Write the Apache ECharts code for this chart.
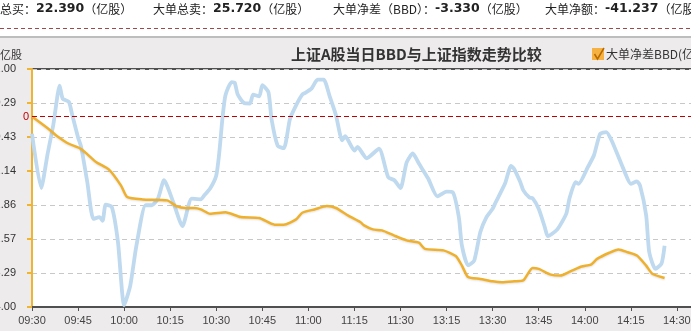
<!DOCTYPE html>
<html><head><meta charset="utf-8">
<script src="https://cdn.jsdelivr.net/npm/echarts@6/dist/echarts.min.js"></script>
<style>html,body{margin:0;padding:0;background:#fff}#c{width:691px;height:331px}</style>
</head><body><div id="c"></div>
<script>
// ---- data ----
var bbdTimes = ['09:30','09:36','09:38','09:42','09:46','09:51','09:55','09:59','10:01','10:06','10:14','10:17','10:20','10:23','10:25','10:28','10:33','10:38','10:44','10:49','10:52','10:56','10:58','11:02','11:06','11:09','11:13','11:17','11:18','11:21','11:24','11:28','13:02','13:06','13:08','13:14','13:18','13:20','13:22','13:26','13:30','13:33','13:37','13:40','13:43','13:45','13:49','13:52','13:56','13:59','14:02','14:04','14:08','14:11','14:14','14:17','14:20','14:22','14:26'];
var bbdValues = [0.00,-0.29,-0.40,-0.57,-0.68,-0.96,-1.11,-1.45,-1.69,-1.74,-1.76,-1.88,-1.92,-1.92,-1.95,-2.04,-2.01,-2.11,-2.13,-2.27,-2.27,-2.16,-2.02,-1.95,-1.88,-1.92,-2.08,-2.22,-2.28,-2.37,-2.39,-2.50,-2.60,-2.65,-2.78,-2.81,-2.93,-3.13,-3.37,-3.41,-3.46,-3.48,-3.46,-3.44,-3.18,-3.20,-3.32,-3.34,-3.23,-3.15,-3.11,-2.99,-2.86,-2.79,-2.85,-2.92,-3.13,-3.30,-3.39];
var idxTimes = ['09:30','09:33','09:35','09:37','09:39','09:40','09:42','09:43','09:45','09:46','09:48','09:50','09:52','09:53','09:54','09:56','09:58','10:00','10:02','10:04','10:07','10:09','10:11','10:13','10:16','10:19','10:22','10:25','10:26','10:28','10:30','10:31','10:32','10:33','10:35','10:36','10:37','10:39','10:41','10:42','10:44','10:45','10:47','10:48','10:50','10:52','10:54','10:56','10:58','10:59','11:01','11:03','11:05','11:07','11:09','11:11','11:12','11:15','11:16','11:19','11:23','11:26','11:28','11:30','13:02','13:04','13:06','13:09','13:12','13:15','13:17','13:19','13:20','13:22','13:24','13:26','13:28','13:30','13:31','13:34','13:36','13:37','13:39','13:40','13:42','13:43','13:45','13:47','13:48','13:51','13:54','13:55','13:57','13:58','14:01','14:03','14:05','14:07','14:09','14:13','14:15','14:17','14:18','14:20','14:21','14:23','14:25','14:26'];
var idxValues = [3319.1,3310.0,3315.5,3320.8,3327.2,3325.0,3324.5,3322.5,3318.5,3316.9,3311.0,3304.8,3305.1,3304.5,3307.2,3306.8,3300.9,3290.3,3293.6,3300.3,3307.1,3307.1,3308.2,3311.3,3307.6,3303.6,3308.2,3308.1,3308.7,3309.9,3312.1,3316.0,3321.6,3325.6,3327.8,3327.7,3325.7,3324.3,3324.2,3325.7,3325.4,3327.3,3326.1,3321.6,3317.1,3316.7,3321.6,3323.9,3325.7,3326.0,3326.7,3328.2,3328.2,3325.3,3322.2,3318.0,3318.7,3316.3,3316.9,3315.0,3316.6,3311.8,3311.3,3310.0,3314.3,3315.8,3314.1,3311.6,3308.6,3309.4,3309.3,3305.1,3300.3,3297.0,3297.8,3302.6,3305.1,3306.5,3307.6,3310.7,3313.7,3313.2,3311.0,3309.6,3308.4,3308.3,3306.5,3303.4,3301.9,3303.0,3305.7,3308.2,3311.0,3310.7,3313.5,3315.5,3319.1,3319.4,3317.7,3312.7,3310.7,3311.1,3310.4,3305.4,3299.2,3296.4,3297.3,3300.3];
var headerItems = [
  {label:'总买：', value:'22.390', unit:'（亿股）'},
  {label:'大单总卖：', value:'25.720', unit:'（亿股）'},
  {label:'大单净差（BBD）：', value:'-3.330', unit:'（亿股）'},
  {label:'大单净额：', value:'-41.237', unit:'（亿股）'}
];
var titleText = '上证A股当日BBD与上证指数走势比较';
var bbdName = '大单净差BBD(亿股)';
var idxName = '上证指数';
var unitName = '亿股';

// trading-minute index (lunch break removed)
function tmin(t){var p=t.split(':');var m=(+p[0])*60+(+p[1]);return m>=780?120+(m-780):m-570;}
function tlabel(v){var m=v<=120?570+v:780+(v-120);var h=Math.floor(m/60),mm=m%60;return (h<10?'0':'')+h+':'+(mm<10?'0':'')+mm;}
function pairs(ts,vs){return ts.map(function(t,i){return [tmin(t),vs[i]];});}

var headerX = [0,153,333,545];
var graphics = [
  {type:'rect',shape:{x:0,y:0,width:691,height:37},style:{fill:'#ffffff'},z:-10},
  {type:'rect',shape:{x:0,y:37,width:691,height:294},style:{fill:'#eeebec'},z:-10},
  {type:'line',shape:{x1:0,y1:28.5,x2:691,y2:28.5},style:{stroke:'#9b4a4a',lineWidth:1,lineDash:[4,3]}},
  {type:'line',shape:{x1:0,y1:37,x2:691,y2:37},style:{stroke:'#bdbdbd',lineWidth:2}},
  {type:'polyline',shape:{points:[[594.5,54],[597.5,59],[604,48]]},style:{stroke:'#b86a00',lineWidth:1.5,fill:null},z:100},
  {type:'text',x:0,y:55,style:{text:unitName,fontSize:11,fontFamily:'Noto Sans CJK SC',fill:'#333',verticalAlign:'middle'}}
];
headerItems.forEach(function(h,i){
  graphics.push({type:'text',x:headerX[i],y:9,style:{
    text:'{c|'+h.label+'}{n|'+h.value+'}{c|'+h.unit+'}',
    verticalAlign:'middle',
    rich:{c:{fontSize:12,fontFamily:'Noto Sans CJK SC',fill:'#222'},
          n:{fontSize:12.5,fontWeight:'bold',fontFamily:'DejaVu Sans',fill:'#222'}}
  }});
});

var chart = echarts.init(document.getElementById('c'),null,{renderer:'canvas'});
chart.setOption({
  animation:false,
  textStyle:{fontFamily:'Liberation Sans, "Noto Sans CJK SC"'},
  title:{text:titleText,left:291,top:47,padding:0,textStyle:{fontSize:15,fontWeight:'bold',color:'#333',fontFamily:'"Noto Sans CJK SC"'}},
  legend:{data:[bbdName],left:592,top:48,padding:0,icon:'rect',itemWidth:12,itemHeight:12,itemGap:2,
    textStyle:{fontSize:12,color:'#333',fontFamily:'"Noto Sans CJK SC"',padding:[0,0,0,-3]}},
  graphic:graphics,
  grid:{left:32,top:69,width:737,bottom:24,show:true,containLabel:false,outerBoundsMode:'none',backgroundColor:'#ffffff',borderColor:'#505050',borderWidth:2},
  xAxis:{type:'value',min:0,max:240,interval:15,
    axisLine:{show:true,onZero:false,lineStyle:{color:'#505050',width:2}},
    axisTick:{show:true,length:4,lineStyle:{color:'#505050'}},
    axisLabel:{formatter:tlabel,fontSize:11,color:'#444',margin:8},
    splitLine:{show:false}},
  yAxis:[{type:'value',min:-4,max:1,interval:5/7,offset:10,
    axisLine:{show:true,lineStyle:{color:'#f0b530',width:2}},
    axisTick:{show:true,length:5,lineStyle:{color:'#f0b530',width:2}},
    axisLabel:{formatter:function(v){return v.toFixed(2);},fontSize:11,color:'#333',margin:6},
    splitLine:{show:true,lineStyle:{color:'#c8c8c8',type:[5,4]}}},
   {type:'value',min:3290,max:3330,show:false,splitLine:{show:false}}],
  series:[
    {name:idxName,type:'line',yAxisIndex:1,data:pairs(idxTimes,idxValues),showSymbol:false,smooth:0.2,
      lineStyle:{color:'#bfd9ef',width:3.8},itemStyle:{color:'#bfd9ef'}},
    {name:bbdName,type:'line',yAxisIndex:0,data:pairs(bbdTimes,bbdValues),showSymbol:false,smooth:0.2,
      lineStyle:{color:'#efb02d',width:2.5,shadowColor:'rgba(0,0,0,0.12)',shadowBlur:2,shadowOffsetY:1},itemStyle:{color:'#f5b142'},
      markLine:{silent:true,symbol:'none',data:[{yAxis:0}],
        lineStyle:{color:'#c00000',type:[5,3],width:1,shadowBlur:0,shadowOffsetY:0,shadowColor:'transparent'},
        label:{position:'start',formatter:'0',color:'#c00000',fontSize:11,distance:3}}}
  ]
});
</script></body></html>
